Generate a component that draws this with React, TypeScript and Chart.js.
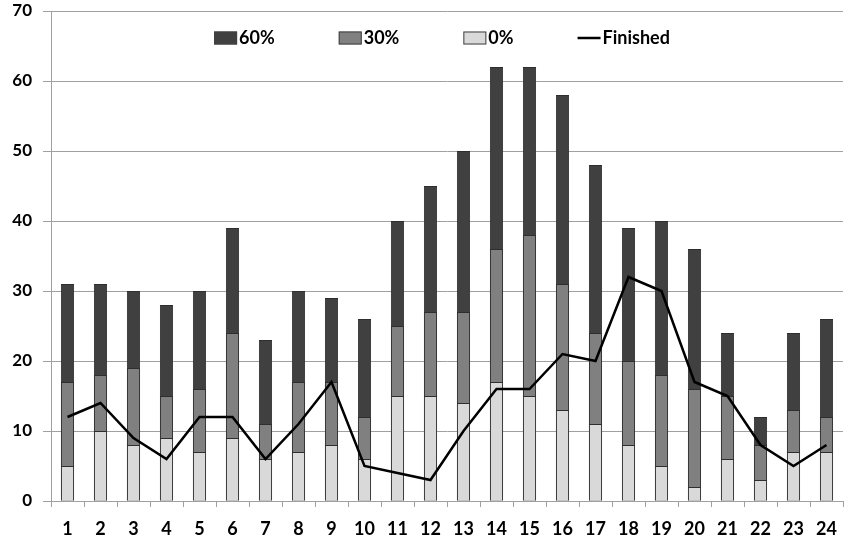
import React, { useEffect, useRef } from "react";
import { Chart, registerables } from "chart.js";

Chart.register(...registerables);

const categories = ["1","2","3","4","5","6","7","8","9","10","11","12","13","14","15","16","17","18","19","20","21","22","23","24"];
// Cumulative heights (overlapping bars, Excel-style)
const level60 = [31,31,30,28,30,39,23,30,29,26,40,45,50,62,62,58,48,39,40,36,24,12,24,26];
const level30 = [17,18,19,15,16,24,11,17,17,12,25,27,27,36,38,31,24,20,18,16,15,8,13,12];
const level0 = [5,10,8,9,7,9,6,7,8,6,15,15,14,17,15,13,11,8,5,2,6,3,7,7];
const finished = [12,14,9,6,12,12,6,11,17,5,4,3,10,16,16,21,20,32,30,17,15,8,5,8];
const yTicks = [0,10,20,30,40,50,60,70];

const FONT = "Lato, 'Open Sans', sans-serif";

const legendPlugin = {
  id: "insideLegend",
  afterDraw(chart: any) {
    const ctx = chart.ctx;
    const ds = chart.data.datasets;
    ctx.save();
    ctx.font = `bold 18px ${FONT}`;
    ctx.textBaseline = "middle";
    const boxW = 23, boxH = 13, gapText = 2, gapItem = 64;
    const widths = ds.map((d: any) => boxW + gapText + ctx.measureText(d.label).width);
    const total = widths.reduce((a: number, b: number) => a + b, 0) + gapItem * (ds.length - 1);
    const ca = chart.chartArea;
    let x = (ca.left + ca.right) / 2 - total / 2 - 5;
    const y = 38;
    ds.forEach((d: any, i: number) => {
      if (d.type === "line") {
        ctx.strokeStyle = d.borderColor;
        ctx.lineWidth = 2.5;
        ctx.beginPath();
        ctx.moveTo(x, y);
        ctx.lineTo(x + boxW, y);
        ctx.stroke();
      } else {
        ctx.fillStyle = d.backgroundColor;
        ctx.fillRect(x, y - boxH / 2, boxW, boxH);
        ctx.strokeStyle = "#404040";
        ctx.lineWidth = 1;
        ctx.strokeRect(x + 0.5, y - boxH / 2 + 0.5, boxW - 1, boxH - 1);
      }
      ctx.fillStyle = "#000";
      ctx.textAlign = "left";
      ctx.fillText(d.label, x + boxW + gapText, y);
      x += widths[i] + gapItem;
    });
    ctx.restore();
  },
};

export default function App() {
  const ref = useRef<HTMLCanvasElement>(null);
  useEffect(() => {
    document.body.style.margin = "0";
    const barCommon = {
      type: "bar" as const,
      borderColor: "#2e2e2e",
      borderWidth: 1,
      borderSkipped: "bottom" as const,
      barPercentage: 0.4,
      categoryPercentage: 1.0,
    };
    const chart = new Chart(ref.current!, {
      type: "bar",
      data: {
        labels: categories,
        datasets: [
          { ...barCommon, label: "60%", data: level60, backgroundColor: "#404040", order: 3 },
          { ...barCommon, label: "30%", data: level30, backgroundColor: "#808080", order: 2 },
          { ...barCommon, label: "0%", data: level0, backgroundColor: "#d9d9d9", order: 1 },
          {
            type: "line",
            label: "Finished",
            data: finished,
            borderColor: "#000000",
            backgroundColor: "#000000",
            borderWidth: 2.5,
            pointRadius: 0,
            tension: 0,
            order: 0,
          } as any,
        ],
      },
      options: {
        responsive: false,
        animation: false,
        layout: { padding: { top: 11, right: 1, left: 0, bottom: 0 } },
        plugins: {
          legend: { display: false },
          tooltip: { enabled: false },
        },
        scales: {
          x: {
            stacked: true,
            offset: true,
            grid: {
              offset: true,
              drawOnChartArea: false,
              drawTicks: true,
              tickLength: 6,
              color: "#a0a0a0",
            },
            border: { color: "#a0a0a0" },
            ticks: {
              color: "#000",
              font: { family: FONT, size: 18, weight: "bold" },
              padding: 11,
              maxRotation: 0,
              autoSkip: false,
            },
            afterFit: (s: any) => { s.height = 40; s.paddingLeft = 0; s.paddingRight = 0; },
          },
          y: {
            stacked: false,
            min: 0,
            max: 70,
            afterBuildTicks: (s: any) => { s.ticks = yTicks.map((v) => ({ value: v })); },
            grid: { color: "#a0a0a0", tickLength: 8 },
            border: { color: "#a0a0a0" },
            ticks: {
              color: "#000",
              font: { family: FONT, size: 17, weight: "bold" },
              padding: 11,
            },
            afterFit: (s: any) => { s.width = 51; s.paddingTop = 0; s.paddingBottom = 0; },
          },
        },
      },
      plugins: [legendPlugin],
    });
    return () => chart.destroy();
  }, []);
  return <canvas ref={ref} width={844} height={541} style={{ display: "block" }} />;
}
